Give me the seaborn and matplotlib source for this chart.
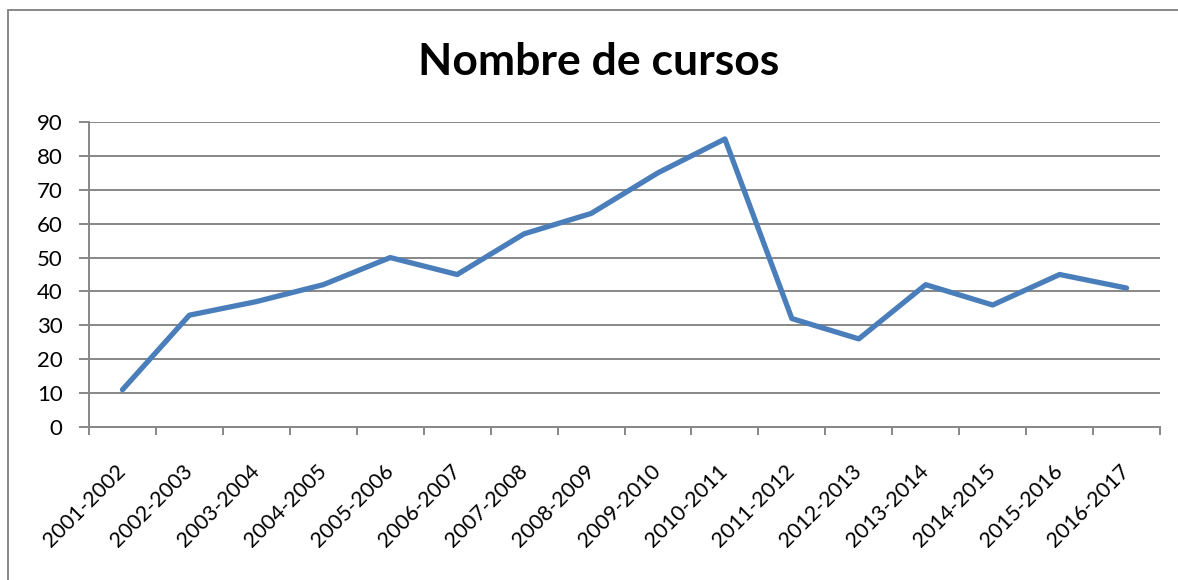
import pandas as pd
import seaborn as sns
import matplotlib.pyplot as plt
from matplotlib.lines import Line2D

courses = ["2001-2002", "2002-2003", "2003-2004", "2004-2005", "2005-2006",
           "2006-2007", "2007-2008", "2008-2009", "2009-2010", "2010-2011",
           "2011-2012", "2012-2013", "2013-2014", "2014-2015", "2015-2016",
           "2016-2017"]
counts = [11, 33, 37, 42, 50, 45, 57, 63, 75, 85, 32, 26, 42, 36, 45, 41]
y_ticks = list(range(0, 91, 10))

df = pd.DataFrame({"curs": courses, "cursos": counts})

sns.set_theme(style="white")
plt.rcParams["font.family"] = ["Lato", "DejaVu Sans"]

fig = plt.figure(figsize=(11.78, 5.8), dpi=100)
ax = fig.add_axes([89 / 1178, 1 - 427 / 580, (1160 - 89) / 1178, (427 - 122) / 580])

sns.lineplot(data=df, x="curs", y="cursos", ax=ax, color="#4A7EBB",
             linewidth=3.8, sort=False)

n = len(courses)
ax.set_xlim(-0.5, n - 0.5)
ax.set_ylim(0, 90)
ax.set_yticks(y_ticks)
ax.set_yticklabels([str(v) for v in y_ticks], fontsize=16, color="black")
ax.yaxis.grid(True, color="#878787", linewidth=1.4)
ax.set_axisbelow(True)

# category boundaries carry the ticks, labels sit in between
ax.set_xticks([i - 0.5 for i in range(n + 1)])
ax.set_xticklabels([])
ax.set_xticks(range(n), minor=True)
ax.set_xticklabels(courses, minor=True, rotation=45, ha="right", va="center",
                   rotation_mode="anchor", fontsize=15.5, color="black")
ax.tick_params(axis="x", which="major", length=6, width=1.4, color="#878787",
               direction="out", bottom=True)
ax.tick_params(axis="x", which="minor", length=0, pad=29.5)
ax.tick_params(axis="y", length=7, width=1.4, color="#878787", direction="out",
               left=True, pad=12)

ax.set_xlabel("")
ax.set_ylabel("")
for side in ["top", "right"]:
    ax.spines[side].set_visible(False)
for side in ["left", "bottom"]:
    ax.spines[side].set_color("#878787")
    ax.spines[side].set_linewidth(1.4)

fig.text(599 / 1178, 1 - 62 / 580, "Nombre de cursos", ha="center", va="center",
         fontsize=32, fontweight="bold", color="black")

# chart frame (only left and top edges visible)
fig.add_artist(Line2D([7.5 / 1178, 7.5 / 1178], [0, 1 - 10 / 580],
                      transform=fig.transFigure, color="#878787", linewidth=1.4))
fig.add_artist(Line2D([7.5 / 1178, 1], [1 - 10 / 580, 1 - 10 / 580],
                      transform=fig.transFigure, color="#878787", linewidth=1.4))

fig.savefig("out.png", dpi=100, facecolor="white")
